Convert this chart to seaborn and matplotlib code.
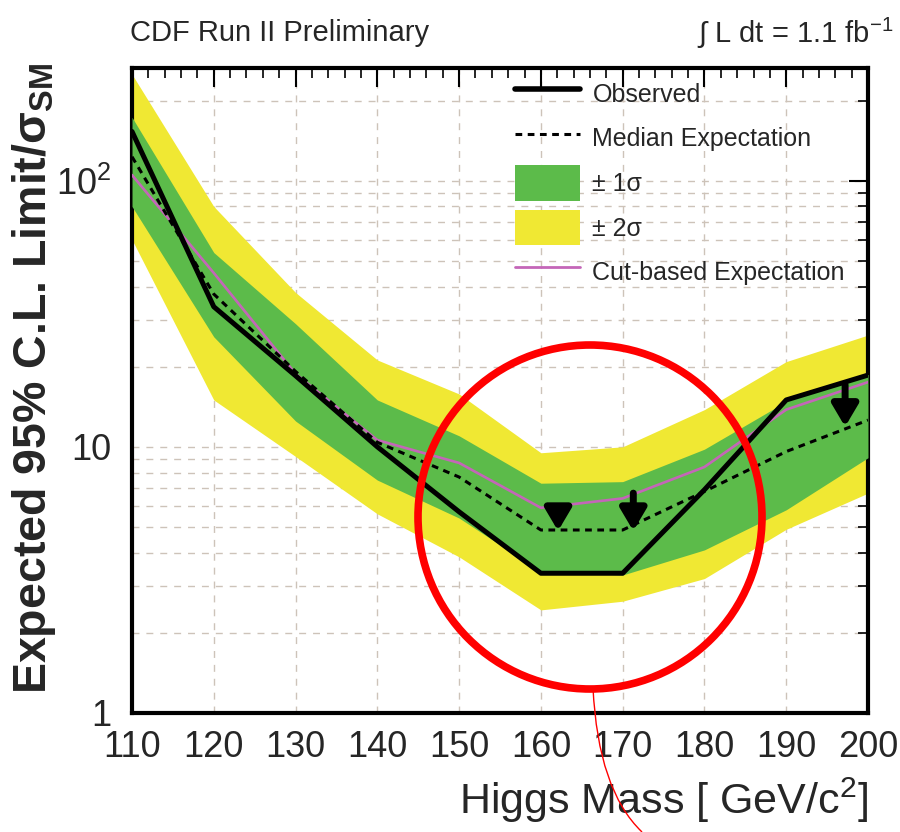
import numpy as np
import pandas as pd
import matplotlib
matplotlib.use("Agg")
import matplotlib.pyplot as plt
import matplotlib.ticker as mticker
from matplotlib.patches import Ellipse, PathPatch, Patch
from matplotlib.path import Path
from matplotlib.lines import Line2D
import seaborn as sns

# ---------------- data ----------------
mass = [110, 120, 130, 140, 150, 160, 170, 180, 190, 200]
observed = [153, 33.6, 18.5, 10.0, 5.7, 3.35, 3.35, 6.9, 15.0, 18.6]
median_exp = [123, 37.5, 19.2, 10.4, 7.7, 4.87, 4.87, 6.8, 9.6, 12.6]
cut_based = [105, 45, 18.8, 10.6, 8.7, 5.9, 6.4, 8.4, 13.8, 17.5]
band1_lo = [80, 25.9, 12.5, 7.5, 5.4, 3.4, 3.3, 4.1, 5.8, 9.1]
band1_hi = [173, 53.7, 29, 15.0, 11.0, 7.3, 7.4, 9.8, 14.8, 18.7]
band2_lo = [60, 15.0, 9.2, 5.6, 3.86, 2.44, 2.63, 3.2, 4.9, 6.7]
band2_hi = [251, 80, 38, 21.2, 15.8, 9.5, 10.0, 13.8, 20.9, 26.3]

arrow_x = [162.1, 171.3, 197.2]
arrow_from = [5.8, 6.7, 17.1]
arrow_to = [4.83, 4.83, 11.9]

legend_labels = ["Observed", "Median Expectation", "± 1σ", "± 2σ",
                 "Cut-based Expectation"]

df = pd.DataFrame({"mass": mass, "observed": observed, "median": median_exp,
                   "cut": cut_based})

# ---------------- style ----------------
sns.set_theme(style="white")
plt.rcParams["font.family"] = ["Liberation Sans", "DejaVu Sans"]
plt.rcParams["mathtext.fontset"] = "custom"
plt.rcParams["mathtext.rm"] = "Liberation Sans"
plt.rcParams["mathtext.it"] = "Liberation Sans:italic"
plt.rcParams["mathtext.bf"] = "Liberation Sans:bold"

GREEN = "#5cbb4a"
YELLOW = "#f0e833"
PINK = "#c466b8"

fig = plt.figure(figsize=(9, 8.32), dpi=100)
ax = fig.add_axes([132 / 900, 1 - 713 / 832, (868 - 132) / 900, (713 - 68) / 832])

ax.fill_between(df["mass"], band2_lo, band2_hi, color=YELLOW, lw=0, zorder=2)
ax.fill_between(df["mass"], band1_lo, band1_hi, color=GREEN, lw=0, zorder=3)

sns.lineplot(data=df, x="mass", y="cut", ax=ax, color=PINK, lw=1.9, zorder=4)
sns.lineplot(data=df, x="mass", y="median", ax=ax, color="black", lw=2.2,
             linestyle=(0, (2.2, 1.8)), zorder=5)
sns.lineplot(data=df, x="mass", y="observed", ax=ax, color="black", lw=3.6,
             zorder=6)

for xa, y0, y1 in zip(arrow_x, arrow_from, arrow_to):
    ax.annotate("", xy=(xa, y1), xytext=(xa, y0),
                arrowprops=dict(arrowstyle="-|>,head_length=1.1,head_width=0.65",
                                color="black", lw=5, shrinkA=0, shrinkB=0),
                zorder=7)

ax.set_yscale("log")
ax.set_xlim(110, 200)
ax.set_ylim(1, 265)

# grid
ax.grid(True, which="both", axis="y", color="#cdc3b9", linestyle=(0, (5, 5)),
        lw=1.0, zorder=1)
ax.grid(True, which="major", axis="x", color="#cdc3b9", linestyle=(0, (5, 5)),
        lw=1.0, zorder=1)
ax.set_axisbelow(True)

# ticks
ax.xaxis.set_major_locator(mticker.MultipleLocator(10))
ax.xaxis.set_minor_locator(mticker.MultipleLocator(2))
ax.yaxis.set_major_locator(mticker.LogLocator(base=10, numticks=10))
ax.yaxis.set_minor_locator(mticker.LogLocator(base=10, subs=np.arange(2, 10),
                                              numticks=20))
ax.yaxis.set_minor_formatter(mticker.NullFormatter())


def yfmt(v, pos):
    if abs(v - 1) < 1e-9:
        return "1"
    if abs(v - 10) < 1e-9:
        return "10"
    if abs(v - 100) < 1e-9:
        return r"10$^2$"
    return ""


ax.yaxis.set_major_formatter(mticker.FuncFormatter(yfmt))
ax.tick_params(which="both", direction="in", top=True, right=True,
               color="black")
ax.tick_params(which="major", length=14, width=1.5, labelsize=26)
ax.tick_params(axis="x", which="major", pad=12)
ax.tick_params(axis="y", which="major", pad=15)
ax.tick_params(which="minor", length=7, width=1.2)
for s in ax.spines.values():
    s.set_linewidth(3)
    s.set_color("black")

ax.set_xlabel("")
ax.set_ylabel("")
fig.text(34 / 900, 1 - 378 / 832, "Expected 95% C.L. Limit/σ$_{\\mathbf{SM}}$",
         rotation=90, ha="center", va="center", fontsize=33.5, fontweight="bold")
fig.text(868 / 900, 1 - 800 / 832, r"Higgs Mass [ GeV/c$^2$]",
         ha="right", va="center", fontsize=31)

fig.text(130 / 900, 1 - 33 / 832, "CDF Run II Preliminary", ha="left",
         va="center", fontsize=21)
fig.text(893 / 900, 1 - 33 / 832, r"$\int$ L dt = 1.1 fb$^{-1}$", ha="right",
         va="center", fontsize=21)

# legend
handles = [
    Line2D([], [], color="black", lw=4),
    Line2D([], [], color="black", lw=2.2, linestyle=(0, (2.2, 1.8))),
    Patch(facecolor=GREEN, edgecolor="none"),
    Patch(facecolor=YELLOW, edgecolor="none"),
    Line2D([], [], color=PINK, lw=2),
]
ax.legend(handles, legend_labels, loc="upper left",
          bbox_to_anchor=((505 - 132) / 736, (713 - 66) / 645),
          frameon=False, fontsize=18, handlelength=2.6, handleheight=1.8,
          handletextpad=0.5, labelspacing=0.37, borderaxespad=0)

# red annotation circle and stroke
circ = Ellipse((590 / 900, 1 - 517 / 832), 344 / 900, 344 / 832,
               transform=fig.transFigure, fill=False, edgecolor="#ff0000",
               lw=5.5, zorder=20)
fig.add_artist(circ)
verts = [(593 / 900, 1 - 688 / 832), (598 / 900, 1 - 790 / 832),
         (642 / 900, 1 - 832 / 832)]
path = Path(verts, [Path.MOVETO, Path.CURVE3, Path.CURVE3])
fig.add_artist(PathPatch(path, transform=fig.transFigure, fill=False,
                         edgecolor="#ff0000", lw=1.0, zorder=20))

fig.savefig("out.png", dpi=100)
